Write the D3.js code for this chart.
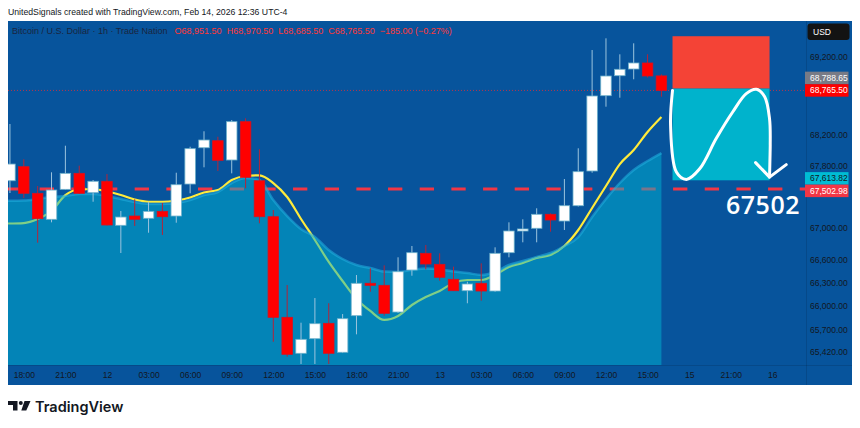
<!DOCTYPE html>
<html>
<head>
<meta charset="utf-8">
<script src="https://cdnjs.cloudflare.com/ajax/libs/d3/7.8.5/d3.min.js"></script>
<style>
  body { margin: 0; background: #ffffff; }
  svg { display: block; }
</style>
</head>
<body>
<div id="chart"></div>
<script>

// BTCUSD 1h candles
var opens  = [67608, 67788, 67447, 67114, 67498, 67703, 67455, 67601, 67037, 67156,
              67127, 67216, 67156, 67566, 68031, 68121, 67874, 68365, 67608, 67147,
              65858, 65397, 65584, 65781, 65410, 65879, 66294, 66268, 65926, 66464,
              66678, 66537, 66345, 66199, 66294, 66195, 66686, 66964, 66999, 67178,
              67092, 67288, 67733, 68698, 68954, 69040, 69117, 68951.5];
var highs  = [68335, 67883, 67541, 67716, 68057, 67801, 67617, 67694, 67220, 67370,
              67339, 67323, 67711, 68044, 68242, 68172, 68386, 68408, 68011, 67233,
              66272, 65789, 66105, 66038, 65900, 66400, 66486, 66524, 66627, 66772,
              66785, 66678, 66507, 66314, 66550, 66755, 67075, 67114, 67255, 67190,
              67630, 68024, 69283, 69433, 69228, 69369, 69228, 68970.5];
var lows   = [67451, 67387, 66814, 67075, 67495, 67438, 67339, 67034, 66682, 67028,
              66942, 66913, 67070, 67447, 67780, 67733, 67703, 67511, 67063, 65545,
              65353, 65260, 65260, 65260, 65400, 65640, 66186, 65879, 65913, 66391,
              66473, 66327, 66195, 66038, 66071, 66185, 66627, 66819, 66819, 66955,
              66977, 67278, 67711, 68557, 68672, 68908, 68931, 68685.5];
var closes = [67822, 67447, 67122, 67489, 67703, 67447, 67601, 67041, 67143, 67114,
              67216, 67147, 67557, 68019, 68130, 67870, 68365, 67652, 67147, 65858,
              65384, 65576, 65776, 65397, 65840, 66294, 66268, 65909, 66442, 66686,
              66541, 66371, 66199, 66285, 66195, 66678, 66964, 66990, 67178, 67105,
              67288, 67724, 68694, 68950, 69036, 69117, 68950.5, 68765.5];

// moving averages (fast = yellow line, slow = shaded area)
var fastMA = [67060, 67066, 67118, 67220, 67425, 67496, 67502, 67470, 67425, 67368,
              67339, 67339, 67355, 67393, 67457, 67489, 67617, 67669, 67678, 67579,
              67400, 67118, 66849, 66567, 66323, 66093, 65939, 65824, 65875, 66016,
              66118, 66195, 66298, 66336, 66336, 66400, 66503, 66554, 66618, 66656,
              66772, 66977, 67259, 67541, 67822, 68002, 68233, 68425];
var slowMA = [67352, 67355, 67374, 67400, 67412, 67438, 67438, 67412, 67374, 67336,
              67310, 67310, 67323, 67361, 67425, 67464, 67579, 67643, 67617, 67361,
              67156, 66990, 66887, 66720, 66605, 66528, 66490, 66445, 66439, 66464,
              66483, 66471, 66445, 66426, 66400, 66439, 66528, 66580, 66631, 66682,
              66772, 66887, 67143, 67374, 67579, 67746, 67861, 67963];

var timeTickIdx    = [1, 4, 7, 10, 13, 16, 19, 22, 25, 28, 31, 34, 37, 40, 43, 46, 49, 52, 55];
var timeTickLabels = ["18:00", "21:00", "12", "03:00", "06:00", "09:00", "12:00", "15:00", "18:00",
                      "21:00", "13", "03:00", "06:00", "09:00", "12:00", "15:00", "15", "21:00", "16"];
var priceTicks = [69200, 68200, 67800, 67000, 66600, 66300, 66000, 65700, 65420];

var levelPrice = 67502.98;     // dashed red level
var entryPrice = 68788.65;     // short position tool
var stopPrice = 69460;
var targetPrice = 67613.82;
var slowLast = 67613.82;
var toolStart = 47.8, toolEnd = 54.8;

// hand drawn arrow inside the target box (fractions of box width / height)
var arrowCurve = [[0, 0.02], [-0.02, 0.40], [0.04, 0.91], [0.144, 0.99], [0.28, 0.875],
                  [0.45, 0.545], [0.62, 0.255], [0.76, 0.055], [0.865, 0.008], [0.95, 0.09],
                  [1.0, 0.33], [1.007, 0.62], [1.0, 0.965]];
var arrowHead = [[0.856, 0.807], [1.0, 0.965], [1.172, 0.829]];


var W = 860, H = 428;
var pL = 8, pR = 806, pT = 21, pB = 365, axisR = 852, axisB = 385;

var bg = "#07549c", textDark = "#131722", font = "'Liberation Sans', Arial, sans-serif";
var fmt = d3.format(",.2f");

var svg = d3.select("#chart").append("svg")
    .attr("width", W)
    .attr("height", H)
    .style("font-family", font);

// Domain and ranges
var xScale = d3.scaleLinear().domain([-0.14, 57.43]).range([pL, pR]);
var yScale = d3.scaleLinear().domain([65247, 69655]).range([pB, pT]);

// first point sits on the left edge, the series continue off-chart
function xi(i) { return i === 0 ? pL : xScale(i); }

svg.append("rect")
    .attr("x", pL).attr("y", pT)
    .attr("width", axisR - pL).attr("height", axisB - pT)
    .attr("fill", bg);

svg.append("clipPath").attr("id", "plotClip")
  .append("rect")
    .attr("x", pL).attr("y", pT)
    .attr("width", pR - pL).attr("height", pB - pT);

var plot = svg.append("g").attr("clip-path", "url(#plotClip)");

// dashed level line
plot.append("line")
    .attr("x1", pL).attr("x2", pR)
    .attr("y1", yScale(levelPrice)).attr("y2", yScale(levelPrice))
    .attr("stroke", "#f23645")
    .attr("stroke-width", 3)
    .attr("stroke-dasharray", "14.3,17.37");

// fast MA under the translucent area -> looks green where it runs below it
var fastLine = d3.line()
    .x(function(d, i) { return xi(i); })
    .y(function(d) { return yScale(d); })
    .curve(d3.curveMonotoneX);

plot.append("path")
    .attr("d", fastLine(fastMA))
    .attr("fill", "none")
    .attr("stroke", "#ffeb3b")
    .attr("stroke-width", 2.2);

var slowArea = d3.area()
    .x(function(d, i) { return xi(i); })
    .y0(pB)
    .y1(function(d) { return yScale(d); })
    .curve(d3.curveMonotoneX);

plot.append("path")
    .attr("d", slowArea(slowMA))
    .attr("fill", "#00b4d2")
    .attr("fill-opacity", 0.5);

plot.append("path")
    .attr("d", fastLine(slowMA))
    .attr("fill", "none")
    .attr("stroke", "#22b0e0")
    .attr("stroke-opacity", 0.55)
    .attr("stroke-width", 2.5);

// current price dotted line
plot.append("line")
    .attr("x1", pL).attr("x2", pR)
    .attr("y1", yScale(closes[closes.length - 1])).attr("y2", yScale(closes[closes.length - 1]))
    .attr("stroke", "#ff2a2a")
    .attr("stroke-opacity", 0.7)
    .attr("stroke-dasharray", "1,2");

// candles
var bodyW = 10.5;
var candles = plot.selectAll("g.candle")
    .data(opens.map(function(o, i) { return { i: i, o: o, h: highs[i], l: lows[i], c: closes[i] }; }))
    .enter().append("g").attr("class", "candle");

candles.append("line")
    .attr("x1", function(d) { return xScale(d.i); })
    .attr("x2", function(d) { return xScale(d.i); })
    .attr("y1", function(d) { return yScale(d.h); })
    .attr("y2", function(d) { return yScale(d.l); })
    .attr("stroke", function(d) { return d.c >= d.o ? "#9cc4de" : "#b3243a"; })
    .attr("stroke-width", 1);

candles.append("rect")
    .attr("x", function(d) { return xScale(d.i) - bodyW / 2; })
    .attr("y", function(d) { return yScale(Math.max(d.o, d.c)); })
    .attr("width", bodyW)
    .attr("height", function(d) { return Math.max(1.5, Math.abs(yScale(d.o) - yScale(d.c))); })
    .attr("fill", function(d) { return d.c >= d.o ? "#ffffff" : "#ff0000"; })
    .attr("stroke", function(d) { return d.c >= d.o ? "#6fb2cc" : "#d9101e"; })
    .attr("stroke-width", 0.8);

// short position tool
var tx0 = xScale(toolStart), tx1 = xScale(toolEnd);
plot.append("rect")
    .attr("x", tx0).attr("y", yScale(stopPrice))
    .attr("width", tx1 - tx0).attr("height", yScale(entryPrice) - yScale(stopPrice))
    .attr("fill", "#f44336");
plot.append("rect")
    .attr("x", tx0).attr("y", yScale(entryPrice))
    .attr("width", tx1 - tx0).attr("height", yScale(targetPrice) - yScale(entryPrice))
    .attr("fill", "#00b3cc");

function boxPt(p) {
    var x = tx0 + p[0] * (tx1 - tx0);
    var y = yScale(entryPrice) + p[1] * (yScale(targetPrice) - yScale(entryPrice));
    return [x, y];
}

plot.append("path")
    .attr("d", d3.line().curve(d3.curveCatmullRom)(arrowCurve.map(boxPt)))
    .attr("fill", "none")
    .attr("stroke", "#ffffff")
    .attr("stroke-width", 3)
    .attr("stroke-linecap", "round");

plot.append("path")
    .attr("d", d3.line()(arrowHead.map(boxPt)))
    .attr("fill", "none")
    .attr("stroke", "#ffffff")
    .attr("stroke-width", 3)
    .attr("stroke-linecap", "round")
    .attr("stroke-linejoin", "round");

plot.append("text")
    .attr("x", pR - 6)
    .attr("y", yScale(levelPrice) + 25)
    .attr("text-anchor", "end")
    .attr("fill", "#ffffff")
    .style("font-family", "'Open Sans', sans-serif")
    .style("font-size", "25px")
    .style("font-weight", 600)
    .style("letter-spacing", "0.5px")
    .text(String(Math.floor(levelPrice)));

// separators
svg.append("line")
    .attr("x1", pR + 0.5).attr("x2", pR + 0.5)
    .attr("y1", pT).attr("y2", axisB)
    .attr("stroke", "#000").attr("stroke-opacity", 0.12);
svg.append("line")
    .attr("x1", pL).attr("x2", axisR)
    .attr("y1", pB + 0.5).attr("y2", pB + 0.5)
    .attr("stroke", "#000").attr("stroke-opacity", 0.12);

// Add the x Axis
svg.append("g")
    .attr("transform", "translate(0," + pB + ")")
    .call(d3.axisBottom(xScale)
        .tickValues(timeTickIdx)
        .tickFormat(function(d, i) { return timeTickLabels[i]; })
        .tickSize(0)
        .tickPadding(7))
    .call(function(g) { g.select(".domain").remove(); })
    .attr("font-family", font)
    .attr("font-size", 8.5)
    .attr("color", textDark);

// Add the y Axis
svg.append("g")
    .attr("transform", "translate(" + pR + ",0)")
    .call(d3.axisRight(yScale)
        .tickValues(priceTicks)
        .tickFormat(fmt)
        .tickSize(0)
        .tickPadding(4))
    .call(function(g) { g.select(".domain").remove(); })
    .attr("font-family", font)
    .attr("font-size", 8.5)
    .attr("color", textDark);

// price tags on the axis, pushed apart when they overlap
var tagH = 12.5;
var tags = [
    { v: entryPrice, bg: "#787b86", fg: "#ffffff", fixed: false },
    { v: closes[closes.length - 1], bg: "#ff0000", fg: "#ffffff", fixed: true },
    { v: slowLast, bg: "#00bcd4", fg: "#131722", fixed: false },
    { v: levelPrice, bg: "#f23645", fg: "#ffffff", fixed: false }
];
tags.forEach(function(t) { t.y = yScale(t.v); });
tags.sort(function(a, b) { return a.y - b.y; });
for (var k = 1; k < tags.length; k++) {
    var a = tags[k - 1], b = tags[k], ov = tagH - (b.y - a.y);
    if (ov > 0) {
        if (b.fixed) a.y -= ov;
        else if (a.fixed) b.y += ov;
        else { a.y -= ov / 2; b.y += ov / 2; }
    }
}
var tagG = svg.selectAll("g.tag").data(tags).enter().append("g").attr("class", "tag");
tagG.append("rect")
    .attr("x", pR - 1).attr("y", function(d) { return d.y - tagH / 2; })
    .attr("width", 43.5).attr("height", tagH)
    .attr("fill", function(d) { return d.bg; });
tagG.append("text")
    .attr("x", pR + 4).attr("y", function(d) { return d.y; })
    .attr("dy", "0.35em")
    .attr("fill", function(d) { return d.fg; })
    .style("font-size", "8.5px")
    .text(function(d) { return fmt(d.v); });

// USD badge
svg.append("rect")
    .attr("x", 807.5).attr("y", 23.5).attr("width", 42).attr("height", 16.5)
    .attr("rx", 3).attr("fill", "#131313");
svg.append("text")
    .attr("x", 813).attr("y", 35)
    .attr("fill", "#ffffff")
    .style("font-size", "8.5px")
    .text("USD");

// legend row
var last = closes.length - 1;
var chg = closes[last] - closes[last - 1];
var legend = svg.append("text")
    .attr("x", 12).attr("y", 34)
    .style("font-size", "9px");
legend.append("tspan").attr("fill", "#1a2540").text("Bitcoin / U.S. Dollar \u00b7 1h \u00b7 Trade Nation");
var parts = [["O", opens[last]], ["H", highs[last]], ["L", lows[last]], ["C", closes[last]]];
parts.forEach(function(p, j) {
    legend.append("tspan").attr("fill", "#ff3838").attr("dx", j === 0 ? 7 : 5).text(p[0]);
    legend.append("tspan").attr("fill", "#ff3838").text(fmt(p[1]));
});
legend.append("tspan").attr("fill", "#ff3838").attr("dx", 5)
    .text(fmt(chg) + " (" + d3.format(".2f")(chg / closes[last - 1] * 100) + "%)");

// title above the chart
svg.append("text")
    .attr("x", 8).attr("y", 15)
    .attr("fill", "#131722")
    .style("font-size", "8.7px")
    .text("UnitedSignals created with TradingView.com, Feb 14, 2026 12:36 UTC-4");

// TradingView logo
var logo = svg.append("g").attr("fill", "#131722");
logo.append("path").attr("d", "M8,401 H17.5 V410.5 H13 V405 H8 Z");
logo.append("circle").attr("cx", 20.8).attr("cy", 403).attr("r", 2);
logo.append("path").attr("d", "M24.5,401 H30.5 L26.3,410.5 H21.3 Z");
svg.append("text")
    .attr("x", 35).attr("y", 412)
    .attr("fill", "#131722")
    .style("font-family", "Inter, 'Noto Sans', sans-serif")
    .style("font-size", "14.5px")
    .style("font-weight", 600)
    .text("TradingView");

</script>
</body>
</html>
